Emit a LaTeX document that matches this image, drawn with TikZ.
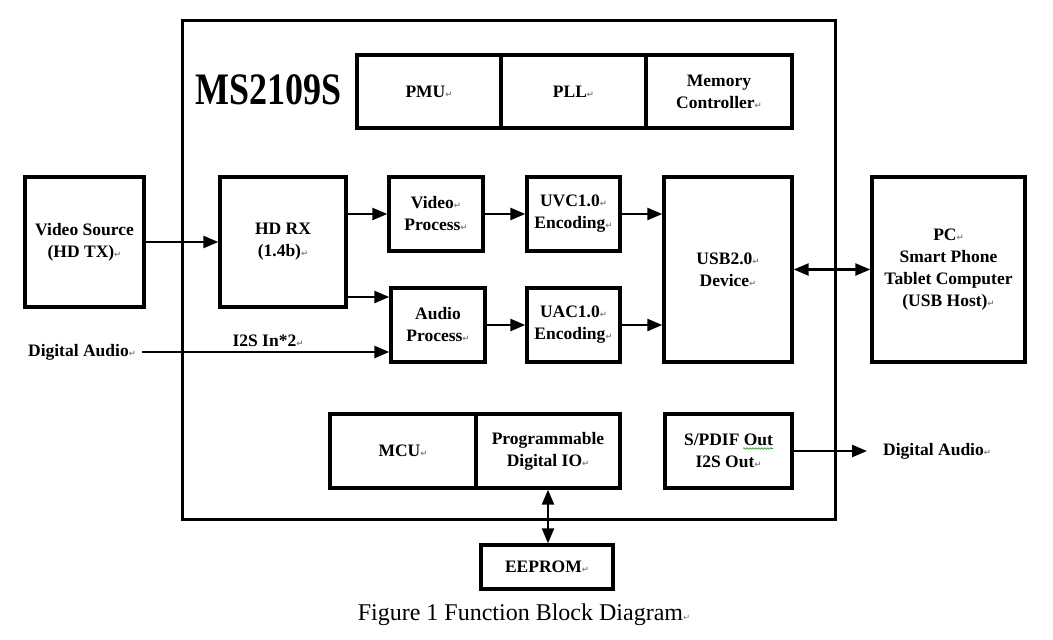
\documentclass[tikz,border=0pt]{standalone}
\usepackage{fontspec}
\setmainfont{Liberation Serif}
\newfontfamily\symf{DejaVu Sans}
\usetikzlibrary{arrows.meta,decorations.pathmorphing}
\newcommand{\rt}{{\symf\fontsize{8.5}{8.5}\selectfont\textcolor{gray}{↵}}}
\begin{document}
\begin{tikzpicture}[x=1pt,y=-1pt,
  blk/.style={draw, line width=3.4pt, inner sep=0pt, align=center,
    font=\fontsize{17.5}{22}\selectfont\bfseries},
  thk/.style={blk, line width=4.4pt},
  lbl/.style={inner sep=0pt, align=center, font=\fontsize{17.5}{22}\selectfont\bfseries},
  arr/.style={line width=2.5pt, -{Triangle[length=15pt,width=12pt]}},
  darr/.style={line width=2.5pt, {Triangle[length=15pt,width=12pt]}-{Triangle[length=15pt,width=12pt]}}]
\useasboundingbox (0,0) rectangle (1053,640);
% chip
\node[draw, line width=3pt, minimum width=653pt, minimum height=499pt] (chip) at (508.5,269.5) {};
\node[inner sep=0pt, font=\fontsize{45}{45}\selectfont\bfseries] (title) at (269,90) {\scalebox{0.8}[1]{MS2109S}};
% top row
\node[thk, minimum width=144pt, minimum height=73pt] (pmu) at (429,91.5) {PMU\rt};
\node[thk, minimum width=145pt, minimum height=73pt] (pll) at (573.5,91.5) {PLL\rt};
\node[thk, minimum width=146pt, minimum height=73pt] (mem) at (719,91.5) {Memory\\Controller\rt};
% left side
\node[blk, minimum width=119pt, minimum height=130pt] (vs) at (84.5,242) {Video Source\\(HD TX)\rt};
\node[blk, minimum width=126pt, minimum height=130pt] (hd) at (283,242) {HD RX\\(1.4b)\rt};
\node[blk, minimum width=94pt, minimum height=74pt] (vp) at (436,214) {Video\rt\\Process\rt};
\node[blk, minimum width=94pt, minimum height=74pt] (ap) at (438,325) {Audio\\Process\rt};
\node[blk, minimum width=93pt, minimum height=74pt] (uvc) at (573.5,214) {UVC1.0\rt\\Encoding\rt};
\node[blk, minimum width=93pt, minimum height=74pt] (uac) at (573.5,325) {UAC1.0\rt\\Encoding\rt};
\node[blk, minimum width=128pt, minimum height=185pt] (usb) at (728,269.5) {USB2.0\rt\\Device\rt};
\node[blk, minimum width=153pt, minimum height=185pt] (pc) at (948.5,269.5) {PC\rt\\Smart Phone\\Tablet Computer\\(USB Host)\rt};
% bottom
\node[blk, minimum width=146pt, minimum height=74pt] (mcu) at (403,451) {MCU\rt};
\node[blk, minimum width=144pt, minimum height=74pt] (prog) at (548,451) {Programmable\\Digital IO\rt};
\node[blk, minimum width=127pt, minimum height=74pt] (spd) at (728.5,451) {S/PDIF Out\\I2S Out\rt};
\node[blk, minimum width=132pt, minimum height=44pt] (ee) at (547,567) {EEPROM\rt};
% labels
\node[lbl] (dain) at (82,352) {Digital Audio\rt};
\node[lbl] (i2s) at (268,341) {I2S In*2\rt};
\node[lbl, anchor=west] (daout) at (883,451) {Digital Audio\rt};
\node[inner sep=0pt, font=\fontsize{24}{24}\selectfont] (cap) at (524,615) {Figure 1 Function Block Diagram\rt};
% spell-check squiggle under "Out"
\coordinate (sq1) at (743,448.5);
\coordinate (sq2) at (773,448.5);
\draw[green!60!black, line width=0.6pt, decoration={snake, amplitude=0.8pt, segment length=3pt}, decorate] (sq1) -- (sq2);
% connectors
\draw[arr] (vs.east) -- (hd.west);
\draw[arr] (hd.east |- vp.west) -- (vp.west);
\draw[arr] (hd.east |- 0,297) -- (ap.west |- 0,297);
\draw[arr] ([xshift=6pt]dain.east) -- (ap.west |- dain.east);
\draw[arr] (vp.east) -- (uvc.west);
\draw[arr] (ap.east) -- (uac.west);
\draw[arr] (uvc.east) -- (usb.west |- uvc.east);
\draw[arr] (uac.east) -- (usb.west |- uac.east);
\draw[darr] (usb.east) -- (pc.west);
\draw[arr, shorten >=16pt] (spd.east) -- (daout.west);
\draw[darr] (prog.south) -- (prog.south |- ee.north);
\end{tikzpicture}
\end{document}
